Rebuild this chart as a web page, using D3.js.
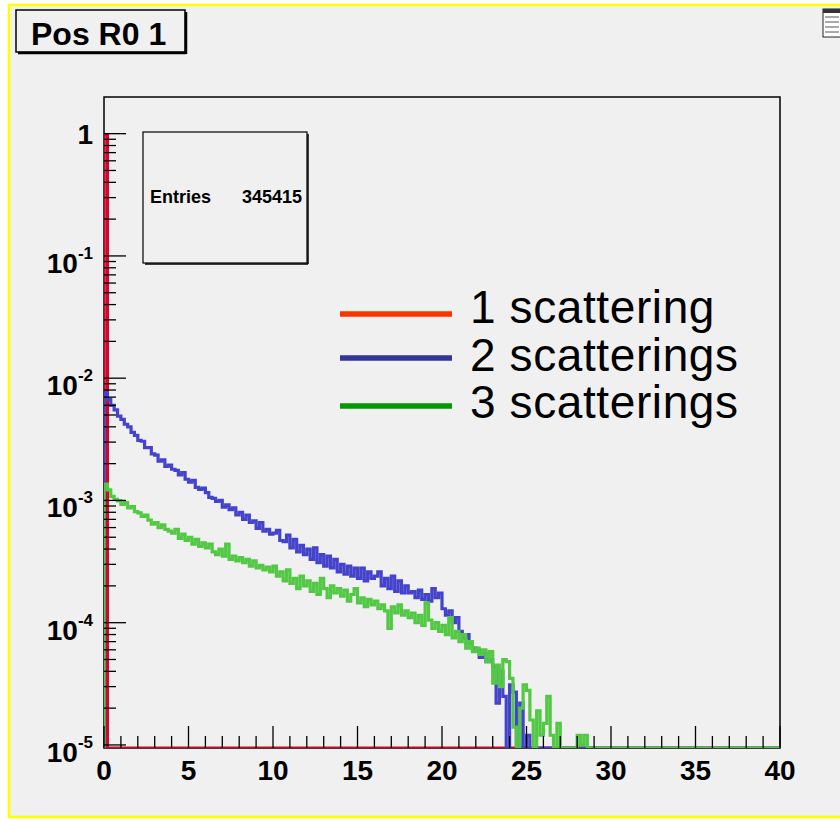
<!DOCTYPE html>
<html>
<head>
<meta charset="utf-8">
<script src="https://cdn.jsdelivr.net/npm/d3@7"></script>
<style>
  body { margin: 0; background: #ffffff; }
  svg { display: block; font-family: "Liberation Sans", Arial, sans-serif; }
</style>
</head>
<body>
<div id="chart"></div>
<script>
// histogram binning (0.2 wide bins from 0 to 40)
var binStart = 0, binWidth = 0.2, nBins = 200;

// bin contents (zero = empty bin)
var oneScatter = [0.98];
var twoScatter = [
  76e-4, 67e-4, 60e-4, 55e-4, 49e-4, 46e-4, 42e-4, 40e-4, 36e-4, 34e-4,
  31e-4, 30.5e-4, 27e-4, 27e-4, 24e-4, 23.5e-4, 21e-4, 21.5e-4, 19e-4, 19.5e-4,
  18e-4, 17.6e-4, 16.2e-4, 16.9e-4, 14.9e-4, 14.1e-4, 14.6e-4, 12.8e-4, 12.3e-4, 12.6e-4,
  11.6e-4, 10.6e-4, 10.4e-4, 9.8e-4, 10.0e-4, 8.8e-4, 9.2e-4, 8.4e-4, 8.7e-4, 7.6e-4,
  8.0e-4, 7.0e-4, 7.6e-4, 6.6e-4, 6.8e-4, 5.9e-4, 6.6e-4, 5.6e-4, 5.8e-4, 5.3e-4,
  5.4e-4, 5.7e-4, 4.7e-4, 4.6e-4, 5.2e-4, 4.1e-4, 4.8e-4, 3.8e-4, 4.3e-4, 3.6e-4,
  4.0e-4, 3.3e-4, 4.1e-4, 3.1e-4, 3.6e-4, 2.9e-4, 3.5e-4, 2.8e-4, 3.3e-4, 2.6e-4,
  3.0e-4, 2.5e-4, 2.9e-4, 2.4e-4, 2.8e-4, 2.3e-4, 2.8e-4, 2.2e-4, 2.6e-4, 2.3e-4,
  2.4e-4, 2.6e-4, 2.0e-4, 2.3e-4, 1.9e-4, 2.4e-4, 1.8e-4, 2.2e-4, 1.75e-4, 2.0e-4,
  1.75e-4, 1.8e-4, 1.6e-4, 1.85e-4, 1.55e-4, 1.7e-4, 1.5e-4, 1.9e-4, 1.6e-4, 1.75e-4,
  1.3e-4, 1.15e-4, 1.25e-4, 1.0e-4, 1.1e-4, 0.85e-4, 0.75e-4, 0.8e-4, 0.68e-4, 0.62e-4,
  0.6e-4, 0.52e-4, 0.56e-4, 0.48e-4, 0.5e-4, 0.44e-4, 0.22e-4, 0.4e-4, 0.25e-4, 0,
  0.31e-4, 0.27e-4, 0, 0.22e-4, 0, 0.12e-4, 0
];
var threeScatter = [
  13.6e-4, 12.2e-4, 10.8e-4, 10.2e-4, 9.9e-4, 9.3e-4, 9.6e-4, 8.7e-4, 8.9e-4, 8.1e-4,
  7.9e-4, 7.4e-4, 7.6e-4, 6.9e-4, 6.4e-4, 6.6e-4, 6.0e-4, 6.3e-4, 5.8e-4, 5.6e-4,
  5.4e-4, 5.8e-4, 4.9e-4, 5.3e-4, 4.7e-4, 5.0e-4, 4.4e-4, 4.8e-4, 4.2e-4, 4.5e-4,
  4.1e-4, 4.4e-4, 3.8e-4, 3.6e-4, 4.0e-4, 3.5e-4, 4.4e-4, 3.3e-4, 3.5e-4, 3.2e-4,
  3.4e-4, 3.1e-4, 3.3e-4, 2.9e-4, 3.2e-4, 2.8e-4, 2.95e-4, 2.7e-4, 2.85e-4, 2.6e-4,
  2.9e-4, 2.4e-4, 2.6e-4, 2.2e-4, 2.7e-4, 2.1e-4, 2.3e-4, 1.9e-4, 2.4e-4, 2.0e-4,
  2.2e-4, 1.8e-4, 2.1e-4, 1.7e-4, 2.3e-4, 1.9e-4, 1.6e-4, 2.0e-4, 1.75e-4, 1.9e-4,
  1.65e-4, 1.85e-4, 1.5e-4, 1.7e-4, 1.9e-4, 1.45e-4, 1.6e-4, 1.35e-4, 1.55e-4, 1.4e-4,
  1.5e-4, 1.3e-4, 1.4e-4, 1.25e-4, 0.9e-4, 1.35e-4, 1.2e-4, 1.4e-4, 1.15e-4, 1.25e-4,
  1.1e-4, 1.2e-4, 1.0e-4, 1.15e-4, 0.95e-4, 1.45e-4, 1.05e-4, 0.9e-4, 1.0e-4, 0.85e-4,
  0.95e-4, 0.8e-4, 1.1e-4, 0.75e-4, 0.85e-4, 0.7e-4, 0.8e-4, 0.62e-4, 0.7e-4, 0.58e-4,
  0.62e-4, 0.55e-4, 0.6e-4, 0.48e-4, 0.58e-4, 0.32e-4, 0.45e-4, 0.3e-4, 0.5e-4, 0.48e-4,
  0.35e-4, 0.14e-4, 0, 0.2e-4, 0.31e-4, 0.28e-4, 0.16e-4, 0, 0.19e-4, 0.12e-4,
  0.15e-4, 0.25e-4, 0.12e-4, 0, 0.15e-4, 0, 0, 0, 0, 0,
  0.12e-4, 0.1e-4, 0.12e-4, 0
];

var xTicks = [0, 5, 10, 15, 20, 25, 30, 35, 40];
var yDecades = [0, -1, -2, -3, -4, -5];
var legendLabels = ["1 scattering", "2 scatterings", "3 scatterings"];
var histColors = ["#d4062e", "#4343cc", "#52c845"];
var legendColors = ["#ff3300", "#333399", "#009900"];
var titleText = "Pos R0 1";
var statsLabel = "Entries", statsValue = "345415";

var W = 840, H = 819;
var frame = {left: 104, top: 97, right: 780, bottom: 748};

var svg = d3.select("#chart").append("svg")
    .attr("width", W)
    .attr("height", H);

// canvas background + yellow border (right edge is off-picture)
svg.append("rect").attr("x", 0).attr("y", 0).attr("width", W).attr("height", H).attr("fill", "#ffffff");
svg.append("rect")
    .attr("x", 9).attr("y", 5).attr("width", W + 20).attr("height", 812)
    .attr("fill", "#f0f0f0")
    .attr("stroke", "#ffff00")
    .attr("stroke-width", 2.5);

var x = d3.scaleLinear().domain([0, 40]).range([frame.left, frame.right]);
var yMin = Math.pow(10, -5.025), yMax = Math.pow(10, 0.3);
var y = d3.scaleLog().domain([yMin, yMax]).range([frame.bottom, frame.top]);

svg.append("clipPath").attr("id", "plotclip")
  .append("rect")
    .attr("x", frame.left).attr("y", frame.top)
    .attr("width", frame.right - frame.left)
    .attr("height", frame.bottom - frame.top);

// frame
svg.append("rect")
    .attr("x", frame.left).attr("y", frame.top)
    .attr("width", frame.right - frame.left)
    .attr("height", frame.bottom - frame.top)
    .attr("fill", "none")
    .attr("stroke", "#000")
    .attr("stroke-width", 1.5);

// histograms as step lines
function histPoints(vals) {
  var pts = [{x: binStart, v: 0}];
  for (var i = 0; i < nBins; i++) {
    var v = i < vals.length ? vals[i] : 0;
    pts.push({x: binStart + i * binWidth, v: v});
  }
  pts.push({x: binStart + nBins * binWidth, v: pts[pts.length - 1].v});
  return pts;
}

var line = d3.line()
    .x(function(d) { return x(d.x); })
    .y(function(d) { return y(d.v > yMin ? d.v : yMin); })
    .curve(d3.curveStepAfter);

var series = [oneScatter, twoScatter, threeScatter];
svg.append("g").attr("clip-path", "url(#plotclip)")
  .selectAll("path.hist")
    .data(series)
  .enter().append("path")
    .attr("class", "hist")
    .attr("d", function(d) { return line(histPoints(d)); })
    .attr("fill", "none")
    .attr("stroke", function(d, i) { return histColors[i]; })
    .attr("stroke-width", 3.2)
    .attr("stroke-linejoin", "miter");

// x axis ticks (major every 5, minor every 1)
var xMinor = d3.range(0, 41, 1);
svg.append("g").selectAll("line")
    .data(xMinor)
  .enter().append("line")
    .attr("x1", function(d) { return x(d); })
    .attr("x2", function(d) { return x(d); })
    .attr("y1", frame.bottom)
    .attr("y2", function(d) { return frame.bottom - (d % 5 === 0 ? 22 : 12); })
    .attr("stroke", "#000")
    .attr("stroke-width", 1.3);

svg.append("g").selectAll("text")
    .data(xTicks)
  .enter().append("text")
    .attr("x", function(d) { return x(d); })
    .attr("y", 780)
    .attr("text-anchor", "middle")
    .attr("font-size", 28)
    .attr("font-weight", "bold")
    .text(function(d) { return d; });

// y axis ticks: decades + 2..9 minors
var yMajor = yDecades.map(function(e) { return Math.pow(10, e); });
var yMinorVals = [];
yDecades.forEach(function(e) {
  for (var k = 2; k <= 9; k++) {
    var v = k * Math.pow(10, e);
    if (v <= yMax) yMinorVals.push(v);
  }
});
svg.append("g").selectAll("line.maj")
    .data(yMajor)
  .enter().append("line")
    .attr("x1", frame.left).attr("x2", frame.left + 22)
    .attr("y1", function(d) { return y(d); })
    .attr("y2", function(d) { return y(d); })
    .attr("stroke", "#000").attr("stroke-width", 1.3);
svg.append("g").selectAll("line.min")
    .data(yMinorVals)
  .enter().append("line")
    .attr("x1", frame.left).attr("x2", frame.left + 12)
    .attr("y1", function(d) { return y(d); })
    .attr("y2", function(d) { return y(d); })
    .attr("stroke", "#000").attr("stroke-width", 1.3);

var yLab = svg.append("g").selectAll("text")
    .data(yDecades)
  .enter().append("text")
    .attr("x", 93)
    .attr("text-anchor", "end")
    .attr("font-weight", "bold")
    .attr("y", function(e) { return e === 0 ? y(1) + 10 : y(Math.pow(10, e)) + 17; });
yLab.each(function(e) {
  var t = d3.select(this);
  if (e === 0) {
    t.append("tspan").attr("font-size", 28).text("1");
  } else {
    t.append("tspan").attr("font-size", 28).text("10");
    t.append("tspan").attr("font-size", 17).attr("dy", -14).text(e);
  }
});

// stats box
svg.append("rect")
    .attr("x", 143).attr("y", 132).attr("width", 164).attr("height", 131)
    .attr("fill", "#f0f0f0").attr("stroke", "#000").attr("stroke-width", 1.2);
svg.append("line").attr("x1", 145).attr("x2", 308).attr("y1", 264).attr("y2", 264)
    .attr("stroke", "#000").attr("stroke-width", 1.5);
svg.append("line").attr("x1", 308).attr("x2", 308).attr("y1", 134).attr("y2", 264)
    .attr("stroke", "#000").attr("stroke-width", 1.5);
svg.append("text").attr("x", 150).attr("y", 203)
    .attr("font-size", 18).attr("font-weight", "bold").text(statsLabel);
svg.append("text").attr("x", 302).attr("y", 203).attr("text-anchor", "end")
    .attr("font-size", 18).attr("font-weight", "bold").text(statsValue);

// legend
var legY = [314, 358, 406], legBase = [323, 371, 418];
var leg = svg.append("g").selectAll("g")
    .data(legendLabels)
  .enter().append("g");
leg.append("line")
    .attr("x1", 340).attr("x2", 452)
    .attr("y1", function(d, i) { return legY[i]; })
    .attr("y2", function(d, i) { return legY[i]; })
    .attr("stroke", function(d, i) { return legendColors[i]; })
    .attr("stroke-width", 5.5);
leg.append("text")
    .attr("x", 470)
    .attr("y", function(d, i) { return legBase[i]; })
    .attr("font-size", 46)
    .attr("letter-spacing", 0.6)
    .attr("fill", "#000")
    .text(function(d) { return d; });

// title box
svg.append("rect")
    .attr("x", 16).attr("y", 10).attr("width", 169).attr("height", 42)
    .attr("fill", "#f0f0f0").attr("stroke", "#000").attr("stroke-width", 1.5);
svg.append("line").attr("x1", 18).attr("x2", 186).attr("y1", 53).attr("y2", 53)
    .attr("stroke", "#000").attr("stroke-width", 2.5);
svg.append("line").attr("x1", 186).attr("x2", 186).attr("y1", 12).attr("y2", 54)
    .attr("stroke", "#000").attr("stroke-width", 2.5);
svg.append("text").attr("x", 31).attr("y", 45)
    .attr("font-size", 32).attr("font-weight", "bold").text(titleText);

// tiny toolbar icon, top right
var ic = svg.append("g");
ic.append("rect").attr("x", 823).attr("y", 9).attr("width", 18).attr("height", 28)
    .attr("fill", "#ffffff").attr("stroke", "#222").attr("stroke-width", 1);
ic.append("rect").attr("x", 823).attr("y", 9).attr("width", 18).attr("height", 4).attr("fill", "#333");
[17, 22, 27, 32].forEach(function(yy) {
  ic.append("line").attr("x1", 825).attr("x2", 839).attr("y1", yy).attr("y2", yy)
    .attr("stroke", "#555").attr("stroke-width", 1);
});
</script>
</body>
</html>
